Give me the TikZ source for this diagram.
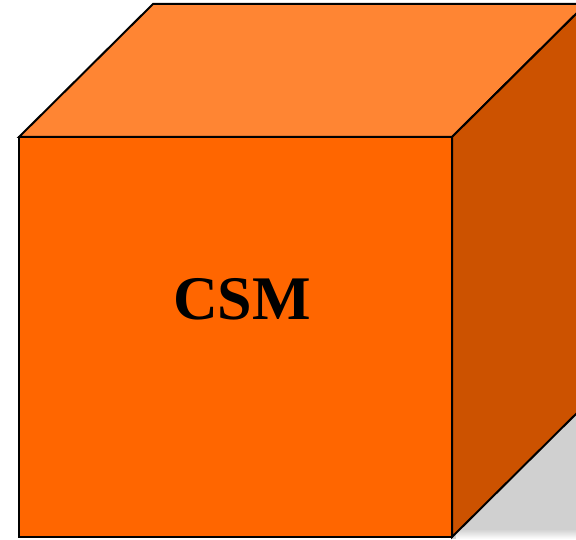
\documentclass[tikz,border=0pt]{standalone}
\usepackage{fontspec}
\setmainfont{Liberation Serif}
\usetikzlibrary{calc}
\definecolor{cubefront}{HTML}{FF6600}
\definecolor{cubetop}{HTML}{FF8533}
\definecolor{cubeside}{HTML}{CC5200}
\definecolor{cubeshadow}{HTML}{D0D0D0}
\tikzset{
  face/.style  = {draw=black, line width=2pt, line join=miter},
  title/.style = {font=\fontsize{62}{68}\selectfont\bfseries, inner sep=0pt},
}
\begin{document}
\begin{tikzpicture}[x=1pt,y=1pt]
  \useasboundingbox (0,0) rectangle (576,539);
  \clip (0,0) rectangle (576,539);
  % corners of the front face and the receding depth
  \coordinate (fbl) at (19,2);
  \coordinate (fbr) at (452,2);
  \coordinate (ftr) at (452,402);
  \coordinate (ftl) at (19,402);
  \coordinate (depth) at (134,133);
  % soft shadow below the right face
  \fill[cubeshadow] (fbr) -- ($(fbr)+(depth)$) -- ($(fbr)+(depth)+(40,0)$) -- (620,4) -- ($(fbr)+(0,-2)$) -- cycle;
  \shade[top color=cubeshadow, bottom color=white] ($(fbr)+(4,-2)$) rectangle (620,10);
  % the three visible faces
  \draw[face, fill=cubetop] (ftl) -- ($(ftl)+(depth)$) -- ($(ftr)+(depth)$) -- (ftr) -- cycle;
  \draw[face, fill=cubeside] (ftr) -- ($(ftr)+(depth)$) -- ($(fbr)+(depth)$) -- (fbr) -- cycle;
  \draw[face, fill=cubefront] (fbl) rectangle (ftr);
  \node[title] (lbl) at (242,240) {CSM};
\end{tikzpicture}
\end{document}
